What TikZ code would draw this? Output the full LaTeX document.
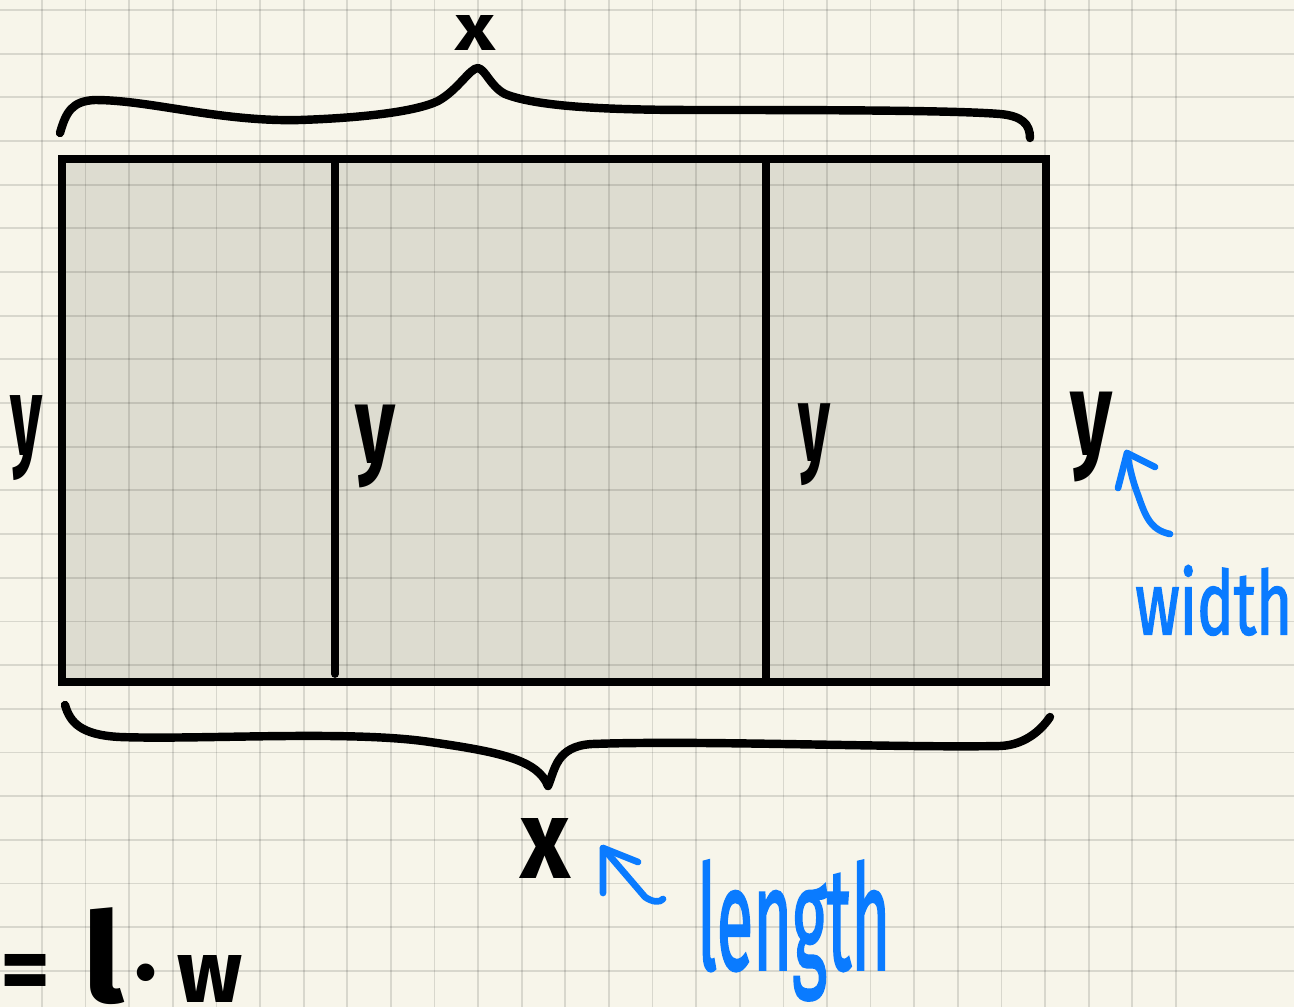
\documentclass[tikz,border=0pt]{standalone}
\usepackage{fontspec}
\setmainfont{Fira Sans}
\newfontfamily\penfont[FakeBold=2]{Fira Sans}
\definecolor{paper}{HTML}{F7F5EA}
\definecolor{boxfill}{HTML}{DDDCD0}
\definecolor{pen}{HTML}{0A7BFF}
\newcommand{\fitbox}[3]{\resizebox*{#1}{#2}{#3}}
\begin{document}
\begin{tikzpicture}[x=0.02cm,y=-0.02cm,
  ink/.style={line width=4.8pt,line cap=round,line join=round},
  blueink/.style={draw=pen,line width=3.8pt,line cap=round,line join=round},
  blk/.style={inner sep=0pt,font=\bfseries,text=black,anchor=north west},
  blu/.style={inner sep=0pt,font=\penfont,text=pen,anchor=north west}]
\useasboundingbox (0,0) rectangle (1294,1007);
\clip (0,0) rectangle (1294,1007);
\fill[paper] (0,0) rectangle (1294,1007);
\fill[boxfill] (62,159) rectangle (1046,682);
% grid
\foreach \k in {-1,...,26} {
  \draw[black,opacity=0.12,line width=1pt] ({42+43.61*\k},0) -- ({42+43.61*\k},1007);
}
\foreach \k in {0,...,23} {
  \draw[black,opacity=0.12,line width=1pt] (0,{10+43.67*\k}) -- (1294,{10+43.67*\k});
}
% rectangle
\draw[ink,line width=4.6pt,line cap=butt,line join=miter] (62,159) rectangle (1046,682);
\coordinate (d1t) at (335,159); \coordinate (d1b) at (335,674);
\coordinate (d2t) at (766,159); \coordinate (d2b) at (766,678);
\draw[ink,line width=4.4pt] (d1t) -- (d1b);
\draw[ink,line width=4.4pt] (d2t) -- (d2b);
% top brace
\draw[ink] (60,133) .. controls (66,112) and (72,101) .. (95,100)
  .. controls (150,100) and (220,122) .. (300,120)
  .. controls (360,118) and (415,112) .. (438,101)
  .. controls (458,90) and (470,68) .. (478,68)
  .. controls (486,70) and (490,86) .. (505,94)
  .. controls (540,108) and (620,110) .. (700,110)
  .. controls (800,110) and (950,110) .. (1000,114)
  .. controls (1022,116) and (1030,124) .. (1030,138);
% bottom brace
\draw[ink] (65,705) .. controls (70,722) and (80,735) .. (120,737)
  .. controls (200,740) and (350,730) .. (430,742)
  .. controls (500,752) and (538,760) .. (548,786)
  .. controls (555,770) and (556,746) .. (592,744)
  .. controls (700,740) and (900,748) .. (1000,746)
  .. controls (1028,745) and (1044,726) .. (1050,717);
% labels
\node[blk] (xtop) at (455,15) {\fitbox{0.8cm}{0.7cm}{x}};
\node[blk] (xbot) at (520,818) {\fitbox{1.0cm}{1.2cm}{x}};
\node[blk] (yl) at (10,395) {\fitbox{0.64cm}{1.7cm}{y}};
\node[blk] (ym1) at (355,405) {\fitbox{0.8cm}{1.66cm}{y}};
\node[blk] (ym2) at (798,403) {\fitbox{0.64cm}{1.64cm}{y}};
\node[blk] (yr) at (1070,392) {\fitbox{0.84cm}{1.8cm}{y}};
\node[blu] (wid) at (1135,565) {\fitbox{3.14cm}{1.4cm}{width}};
\node[blu] (len) at (697,860) {\fitbox{3.86cm}{2.8cm}{length}};
\node[blk,anchor=base west] (area) at (0,1002)
  {\fontsize{55}{60}\selectfont=\hspace{0.64cm}\fitbox{0.84cm}{1.94cm}{l}\hspace{0.2cm}·\hspace{0.4cm}\fitbox{1.3cm}{0.94cm}{w}};
% arrows
\coordinate (wa) at (1127,453);
\coordinate (wtail) at (1170,534);
\draw[blueink] (wtail) .. controls (1150,530) and (1145,515) .. (1138,495) .. controls (1133,482) and (1130,470) .. (wa);
\draw[blueink] (1155,467) -- (wa) -- (1118,488);
\coordinate (la) at (603,848);
\coordinate (ltail) at (663,899);
\draw[blueink] (ltail) .. controls (660,903) and (652,902) .. (645,897) -- (la);
\draw[blueink] (638,862) -- (la) -- (603,893);
\end{tikzpicture}
\end{document}
